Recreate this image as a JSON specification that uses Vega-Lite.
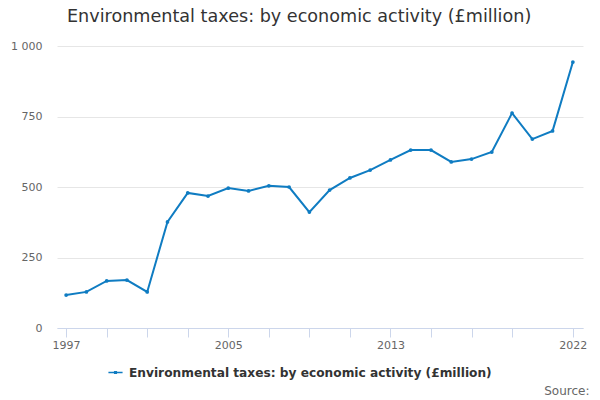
{
  "$schema": "https://vega.github.io/schema/vega-lite/v6.json",
  "autosize": {"type": "none"},
  "padding": {"left": 57, "top": 46, "right": 17, "bottom": 72},
  "width": 526,
  "height": 282,
  "background": "white",
  "title": {
    "text": "Environmental taxes: by economic activity (£million)",
    "anchor": "start",
    "frame": "group",
    "dx": 10,
    "offset": 14,
    "font": "DejaVu Sans",
    "fontSize": 17.6,
    "fontWeight": "normal",
    "color": "#333333"
  },
  "config": {
    "view": {"stroke": null},
    "font": "DejaVu Sans"
  },
  "data": {
    "values": [
      {"year": 1997, "value": 117},
      {"year": 1998, "value": 128},
      {"year": 1999, "value": 167},
      {"year": 2000, "value": 170},
      {"year": 2001, "value": 128},
      {"year": 2002, "value": 376},
      {"year": 2003, "value": 479},
      {"year": 2004, "value": 468},
      {"year": 2005, "value": 496},
      {"year": 2006, "value": 486},
      {"year": 2007, "value": 504},
      {"year": 2008, "value": 500},
      {"year": 2009, "value": 411},
      {"year": 2010, "value": 489},
      {"year": 2011, "value": 532},
      {"year": 2012, "value": 560},
      {"year": 2013, "value": 596},
      {"year": 2014, "value": 631},
      {"year": 2015, "value": 631},
      {"year": 2016, "value": 589},
      {"year": 2017, "value": 599},
      {"year": 2018, "value": 624},
      {"year": 2019, "value": 762},
      {"year": 2020, "value": 670},
      {"year": 2021, "value": 699},
      {"year": 2022, "value": 943}
    ]
  },
  "mark": {
    "type": "line",
    "strokeWidth": 2,
    "point": {"filled": true, "size": 14}
  },
  "encoding": {
    "x": {
      "field": "year",
      "type": "quantitative",
      "scale": {"domain": [1996.55, 2022.5], "nice": false, "zero": false},
      "axis": {
        "values": [1997, 1999, 2001, 2003, 2005, 2007, 2009, 2011, 2013, 2015, 2017, 2019, 2022],
        "labelExpr": "indexof([1997, 2005, 2013, 2022], datum.value) >= 0 ? format(datum.value, 'd') : ''",
        "grid": false,
        "domainColor": "#ccd6eb",
        "tickColor": "#ccd6eb",
        "tickSize": 9,
        "labelColor": "#666666",
        "labelFontSize": 11,
        "labelPadding": 2,
        "labelFlush": false,
        "title": "Source:",
        "titleAnchor": "end",
        "titleAlign": "right",
        "titleX": 532,
        "titleY": 62,
        "titleBaseline": "middle",
        "titleFontWeight": "normal",
        "titleFontSize": 12,
        "titleColor": "#666666"
      }
    },
    "y": {
      "field": "value",
      "type": "quantitative",
      "scale": {"domain": [0, 1000], "nice": false},
      "axis": {
        "values": [0, 250, 500, 750, 1000],
        "labelExpr": "replace(format(datum.value, ','), ',', ' ')",
        "domain": false,
        "ticks": false,
        "gridColor": "#e6e6e6",
        "labelColor": "#666666",
        "labelFontSize": 11,
        "labelPadding": 15,
        "title": null
      }
    },
    "color": {
      "datum": "Environmental taxes: by economic activity (£million)",
      "scale": {"range": ["#0f7cc2"]},
      "legend": {
        "title": null,
        "orient": "none",
        "legendX": 51,
        "legendY": 319,
        "symbolType": "M-1,-0.09L1,-0.09L1,0.09L-1,0.09Z M-0.22,-0.22L0.22,-0.22L0.22,0.22L-0.22,0.22Z",
        "symbolSize": 200,
        "symbolStrokeWidth": 0,
        "labelOffset": 6,
        "labelFontSize": 12.2,
        "labelFontWeight": "bold",
        "labelColor": "#333333",
        "labelLimit": 0
      }
    }
  }
}
